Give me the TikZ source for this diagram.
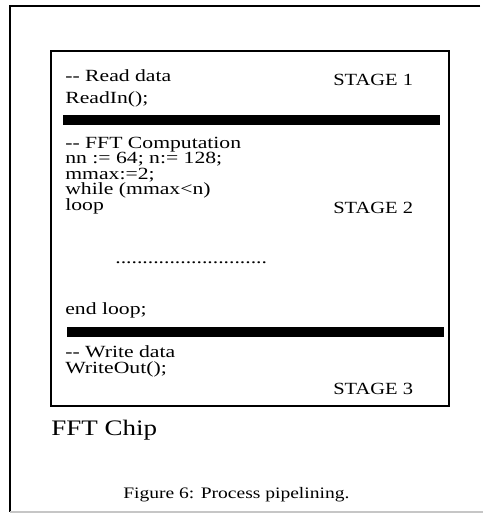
\documentclass[tikz,border=0pt]{standalone}
\usepackage{fontspec}
\setmainfont{Liberation Serif}
\usetikzlibrary{positioning}
\newcommand{\cmtdash}{\mbox{-}\mbox{-}}
\tikzset{
  codeline/.style={anchor=base west, inner sep=0pt, xscale=1.27, font=\fontsize{12.8}{13}\selectfont},
  stagelabel/.style={anchor=base west, inner sep=0pt, xscale=1.2, font=\fontsize{12.8}{13}\selectfont},
  chiplabel/.style={anchor=base west, inner sep=0pt, xscale=1.22, font=\fontsize{16.6}{17}\selectfont},
  captionline/.style={anchor=base west, inner sep=0pt, xscale=1.22, font=\fontsize{12}{13}\selectfont},
  stagebar/.style={fill=black, draw=none},
  chipbox/.style={draw, line width=1.2pt}
}

\begin{document}
\begin{tikzpicture}[x=0.75pt, y=-0.75pt]
  \useasboundingbox (0,0) rectangle (483,514);
  \fill[white] (0,0) rectangle (483,514);
  \draw[line width=1.6pt] (480,6) -- (10,6) -- (10,512);
  \draw[gray!45, line width=1pt] (10,512) -- (483,512);
  \draw[chipbox] (51,51) rectangle (449,406);
  \node[codeline] (readcmt) at (65,81) {\cmtdash{} Read data};
  \node[codeline] (readin) at (65,103) {ReadIn();};
  \node[stagelabel] (stage1) at (333,85) {STAGE 1};
  \fill[stagebar] (63,115) rectangle (440,125);
  \node[codeline] (fftcmt) at (65,148) {\cmtdash{} FFT Computation};
  \node[codeline] (nnline) at (65,163.5) {nn := 64; n:= 128;};
  \node[codeline] (mmaxline) at (65,179) {mmax:=2;};
  \node[codeline] (whileline) at (65,194.5) {while (mmax<n)};
  \node[codeline] (loopline) at (65,210) {loop};
  \node[stagelabel] (stage2) at (333,213) {STAGE 2};
  \node[codeline] (dotline) at (115,263) {............................};
  \node[codeline] (endloop) at (65,314) {end loop;};
  \fill[stagebar] (67,327) rectangle (444,337);
  \node[codeline] (writecmt) at (65,357) {\cmtdash{} Write data};
  \node[codeline] (writeout) at (65,373) {WriteOut();};
  \node[stagelabel] (stage3) at (333,394) {STAGE 3};
  \node[chiplabel] (chip) at (51,435) {FFT Chip};
  \node[captionline] (caption) at (123,498) {Figure 6: Process pipelining.};
\end{tikzpicture}
\end{document}
